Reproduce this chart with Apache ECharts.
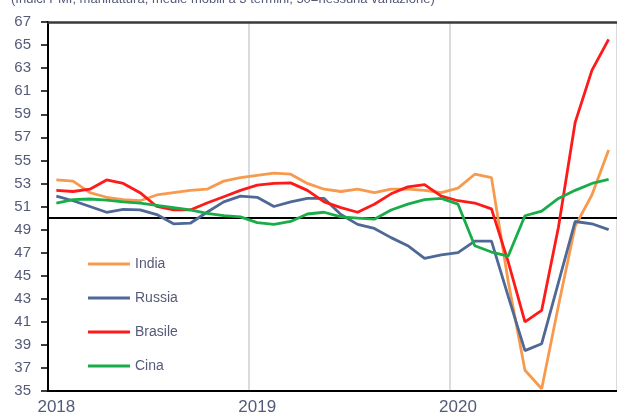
<!DOCTYPE html>
<html>
<head>
<meta charset="utf-8">
<script src="https://cdn.jsdelivr.net/npm/echarts@6/dist/echarts.min.js"></script>
<style>
    html, body { margin: 0; padding: 0; background: #fff; }
    #main { width: 617px; height: 416px; }
</style>
</head>
<body>
<div id="main"></div>
<script>
var months = [
    '2018-01', '2018-02', '2018-03', '2018-04', '2018-05', '2018-06',
    '2018-07', '2018-08', '2018-09', '2018-10', '2018-11', '2018-12',
    '2019-01', '2019-02', '2019-03', '2019-04', '2019-05', '2019-06',
    '2019-07', '2019-08', '2019-09', '2019-10', '2019-11', '2019-12',
    '2020-01', '2020-02', '2020-03', '2020-04', '2020-05', '2020-06',
    '2020-07', '2020-08', '2020-09', '2020-10'
];
var india = [53.3, 53.2, 52.2, 51.8, 51.6, 51.5, 52.0, 52.2, 52.4, 52.5, 53.2, 53.5,
    53.7, 53.9, 53.8, 53.0, 52.5, 52.3, 52.5, 52.2, 52.5, 52.5, 52.4, 52.2,
    52.6, 53.8, 53.5, 44.5, 36.8, 35.2, 42.4, 49.3, 52.0, 55.9];
var russia = [51.9, 51.5, 51.0, 50.5, 50.75, 50.7, 50.3, 49.5, 49.55, 50.5, 51.4, 51.9,
    51.8, 51.0, 51.4, 51.7, 51.7, 50.3, 49.45, 49.1, 48.3, 47.6, 46.5, 46.8,
    47.0, 48.0, 48.0, 43.2, 38.5, 39.1, 44.4, 49.7, 49.5, 49.0];
var brasile = [52.4, 52.3, 52.5, 53.3, 53.0, 52.2, 51.0, 50.7, 50.7, 51.3, 51.85, 52.4,
    52.85, 53.0, 53.05, 52.4, 51.4, 50.9, 50.5, 51.2, 52.1, 52.7, 52.9, 51.9,
    51.5, 51.3, 50.8, 46.2, 41.0, 42.0, 49.2, 58.3, 62.8, 65.5];
var cina = [51.3, 51.6, 51.65, 51.55, 51.4, 51.3, 51.1, 50.9, 50.7, 50.4, 50.2, 50.1,
    49.6, 49.45, 49.7, 50.35, 50.5, 50.1, 50.0, 49.9, 50.7, 51.2, 51.6, 51.7,
    51.2, 47.6, 47.05, 46.7, 50.2, 50.6, 51.7, 52.4, 53.0, 53.35];
var seriesNames = ['India', 'Russia', 'Brasile', 'Cina'];
var seriesColors = ['#f79a4d', '#4f6896', '#ff1a1a', '#19ad4a'];
var yMin = 35, yMax = 67, yStep = 2;
var refLevel = 50;
var subtitle = '(Indici PMI; manifattura; medie mobili a 3 termini; 50=nessuna variazione)';

(function () {
    var myChart = echarts.init(document.getElementById('main'));
    var labelColor = '#545a78';
    var values = [india, russia, brasile, cina];

    var series = seriesNames.map(function (name, i) {
        var s = {
            name: name,
            type: 'line',
            data: values[i],
            symbol: 'none',
            smooth: false,
            lineStyle: { color: seriesColors[i], width: 2.8 },
            itemStyle: { color: seriesColors[i] },
            z: 3
        };
        if (i === 0) {
            // linea orizzontale a 50
            s.markLine = {
                silent: true,
                symbol: 'none',
                label: { show: false },
                lineStyle: { color: '#000', width: 1.8, type: 'solid' },
                data: [{ yAxis: refLevel }],
                z: 1
            };
        }
        return s;
    });

    var option = {
        animation: false,
        backgroundColor: '#fff',
        title: {
            text: subtitle,
            left: 6,
            top: -12,
            textStyle: { color: labelColor, fontSize: 13, fontWeight: 'normal', fontFamily: 'Liberation Sans' }
        },
        grid: {
            left: 48,
            top: 22,
            right: -3,
            bottom: 24
        },
        legend: {
            orient: 'vertical',
            left: 88,
            top: 257,
            padding: 0,
            icon: 'rect',
            itemWidth: 42,
            itemHeight: 3,
            itemGap: 20,
            data: seriesNames,
            textStyle: { color: labelColor, fontSize: 14, lineHeight: 14, fontFamily: 'Liberation Sans' }
        },
        xAxis: [
            {
                type: 'category',
                data: months,
                boundaryGap: true,
                axisLine: { show: true, lineStyle: { color: '#000', width: 2 } },
                axisTick: { show: false },
                axisLabel: {
                    color: labelColor,
                    fontSize: 17,
                    fontFamily: 'Liberation Sans',
                    margin: 8,
                    interval: function (i) { return i % 12 === 0; },
                    formatter: function (v) { return v.slice(0, 4); }
                },
                splitLine: {
                    show: true,
                    interval: function (i) { return i > 0 && i % 12 === 0; },
                    lineStyle: { color: '#cfcfcf', width: 1.5 }
                }
            },
            {
                type: 'category',
                position: 'top',
                data: months,
                axisLine: { show: true, lineStyle: { color: '#3a3a3a', width: 2.5 } },
                axisTick: { show: false },
                axisLabel: { show: false },
                splitLine: { show: false }
            }
        ],
        yAxis: {
            type: 'value',
            min: yMin,
            max: yMax,
            interval: yStep,
            axisLine: { show: true, lineStyle: { color: '#000', width: 2 } },
            axisTick: { show: true, length: 7, lineStyle: { color: '#000', width: 1.5 } },
            axisLabel: {
                color: labelColor,
                fontSize: 15,
                fontFamily: 'Liberation Sans',
                margin: 17
            },
            splitLine: { show: false }
        },
        series: series
    };

    myChart.setOption(option);
    window.addEventListener("resize", function () {
        myChart.resize();
    });
})();
</script>
</body>
</html>
